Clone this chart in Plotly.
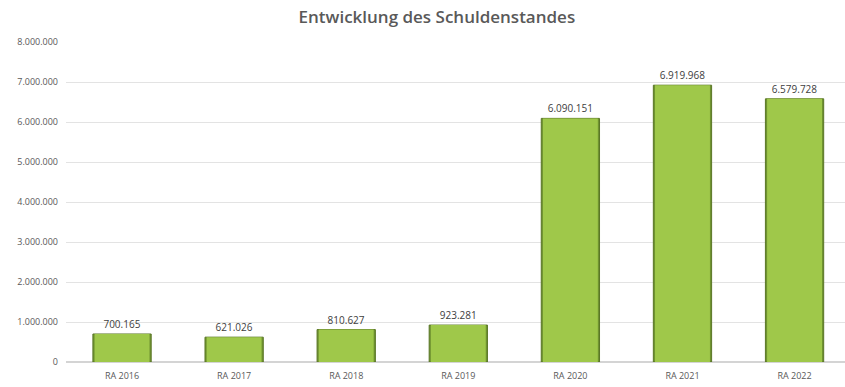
import plotly.graph_objects as go

categories = ["RA 2016", "RA 2017", "RA 2018", "RA 2019", "RA 2020", "RA 2021", "RA 2022"]
debt = [700165, 621026, 810627, 923281, 6090151, 6919968, 6579728]
y_ticks = [0, 1000000, 2000000, 3000000, 4000000, 5000000, 6000000, 7000000, 8000000]


def de_format(v):
    return f"{v:,.0f}".replace(",", ".")


labels = [de_format(v) for v in debt]
tick_text = [de_format(v) for v in y_ticks]

fig = go.Figure()

# outer bar: darker rim
fig.add_trace(go.Bar(
    x=categories, y=debt, width=0.52,
    marker=dict(color="#6f9330", line=dict(color="#5a7626", width=1)),
    hoverinfo="skip", showlegend=False,
))
# inner bar: light face
fig.add_trace(go.Bar(
    x=categories, y=debt, width=0.49,
    marker=dict(color="#9fc84a", line=dict(width=0)),
    text=labels, textposition="outside", cliponaxis=False,
    textfont=dict(family="Open Sans", size=10, color="#404040"),
    showlegend=False,
))

fig.update_layout(
    width=845, height=387,
    margin=dict(l=66, r=0, t=42, b=25),
    barmode="overlay",
    paper_bgcolor="white", plot_bgcolor="white",
    title=dict(text="Entwicklung des Schuldenstandes", x=0.517, xanchor="center",
               y=0.955, yanchor="middle",
               font=dict(family="Open Sans", size=17, weight=600, color="#595959")),
    font=dict(family="Open Sans", size=9, color="#595959"),
)
fig.update_xaxes(range=[-0.5, 6.45], showgrid=False, showline=False, ticks="",
                 ticklabelstandoff=7, tickfont=dict(size=9, color="#595959"))
fig.update_yaxes(range=[0, 8000000], tickvals=y_ticks, ticktext=tick_text,
                 gridcolor="#e3e3e3", gridwidth=1, zeroline=True, zerolinecolor="#d4d4d4",
                 ticks="", ticklabelstandoff=7, tickfont=dict(size=9, color="#595959"))

fig.write_html("out.html")
